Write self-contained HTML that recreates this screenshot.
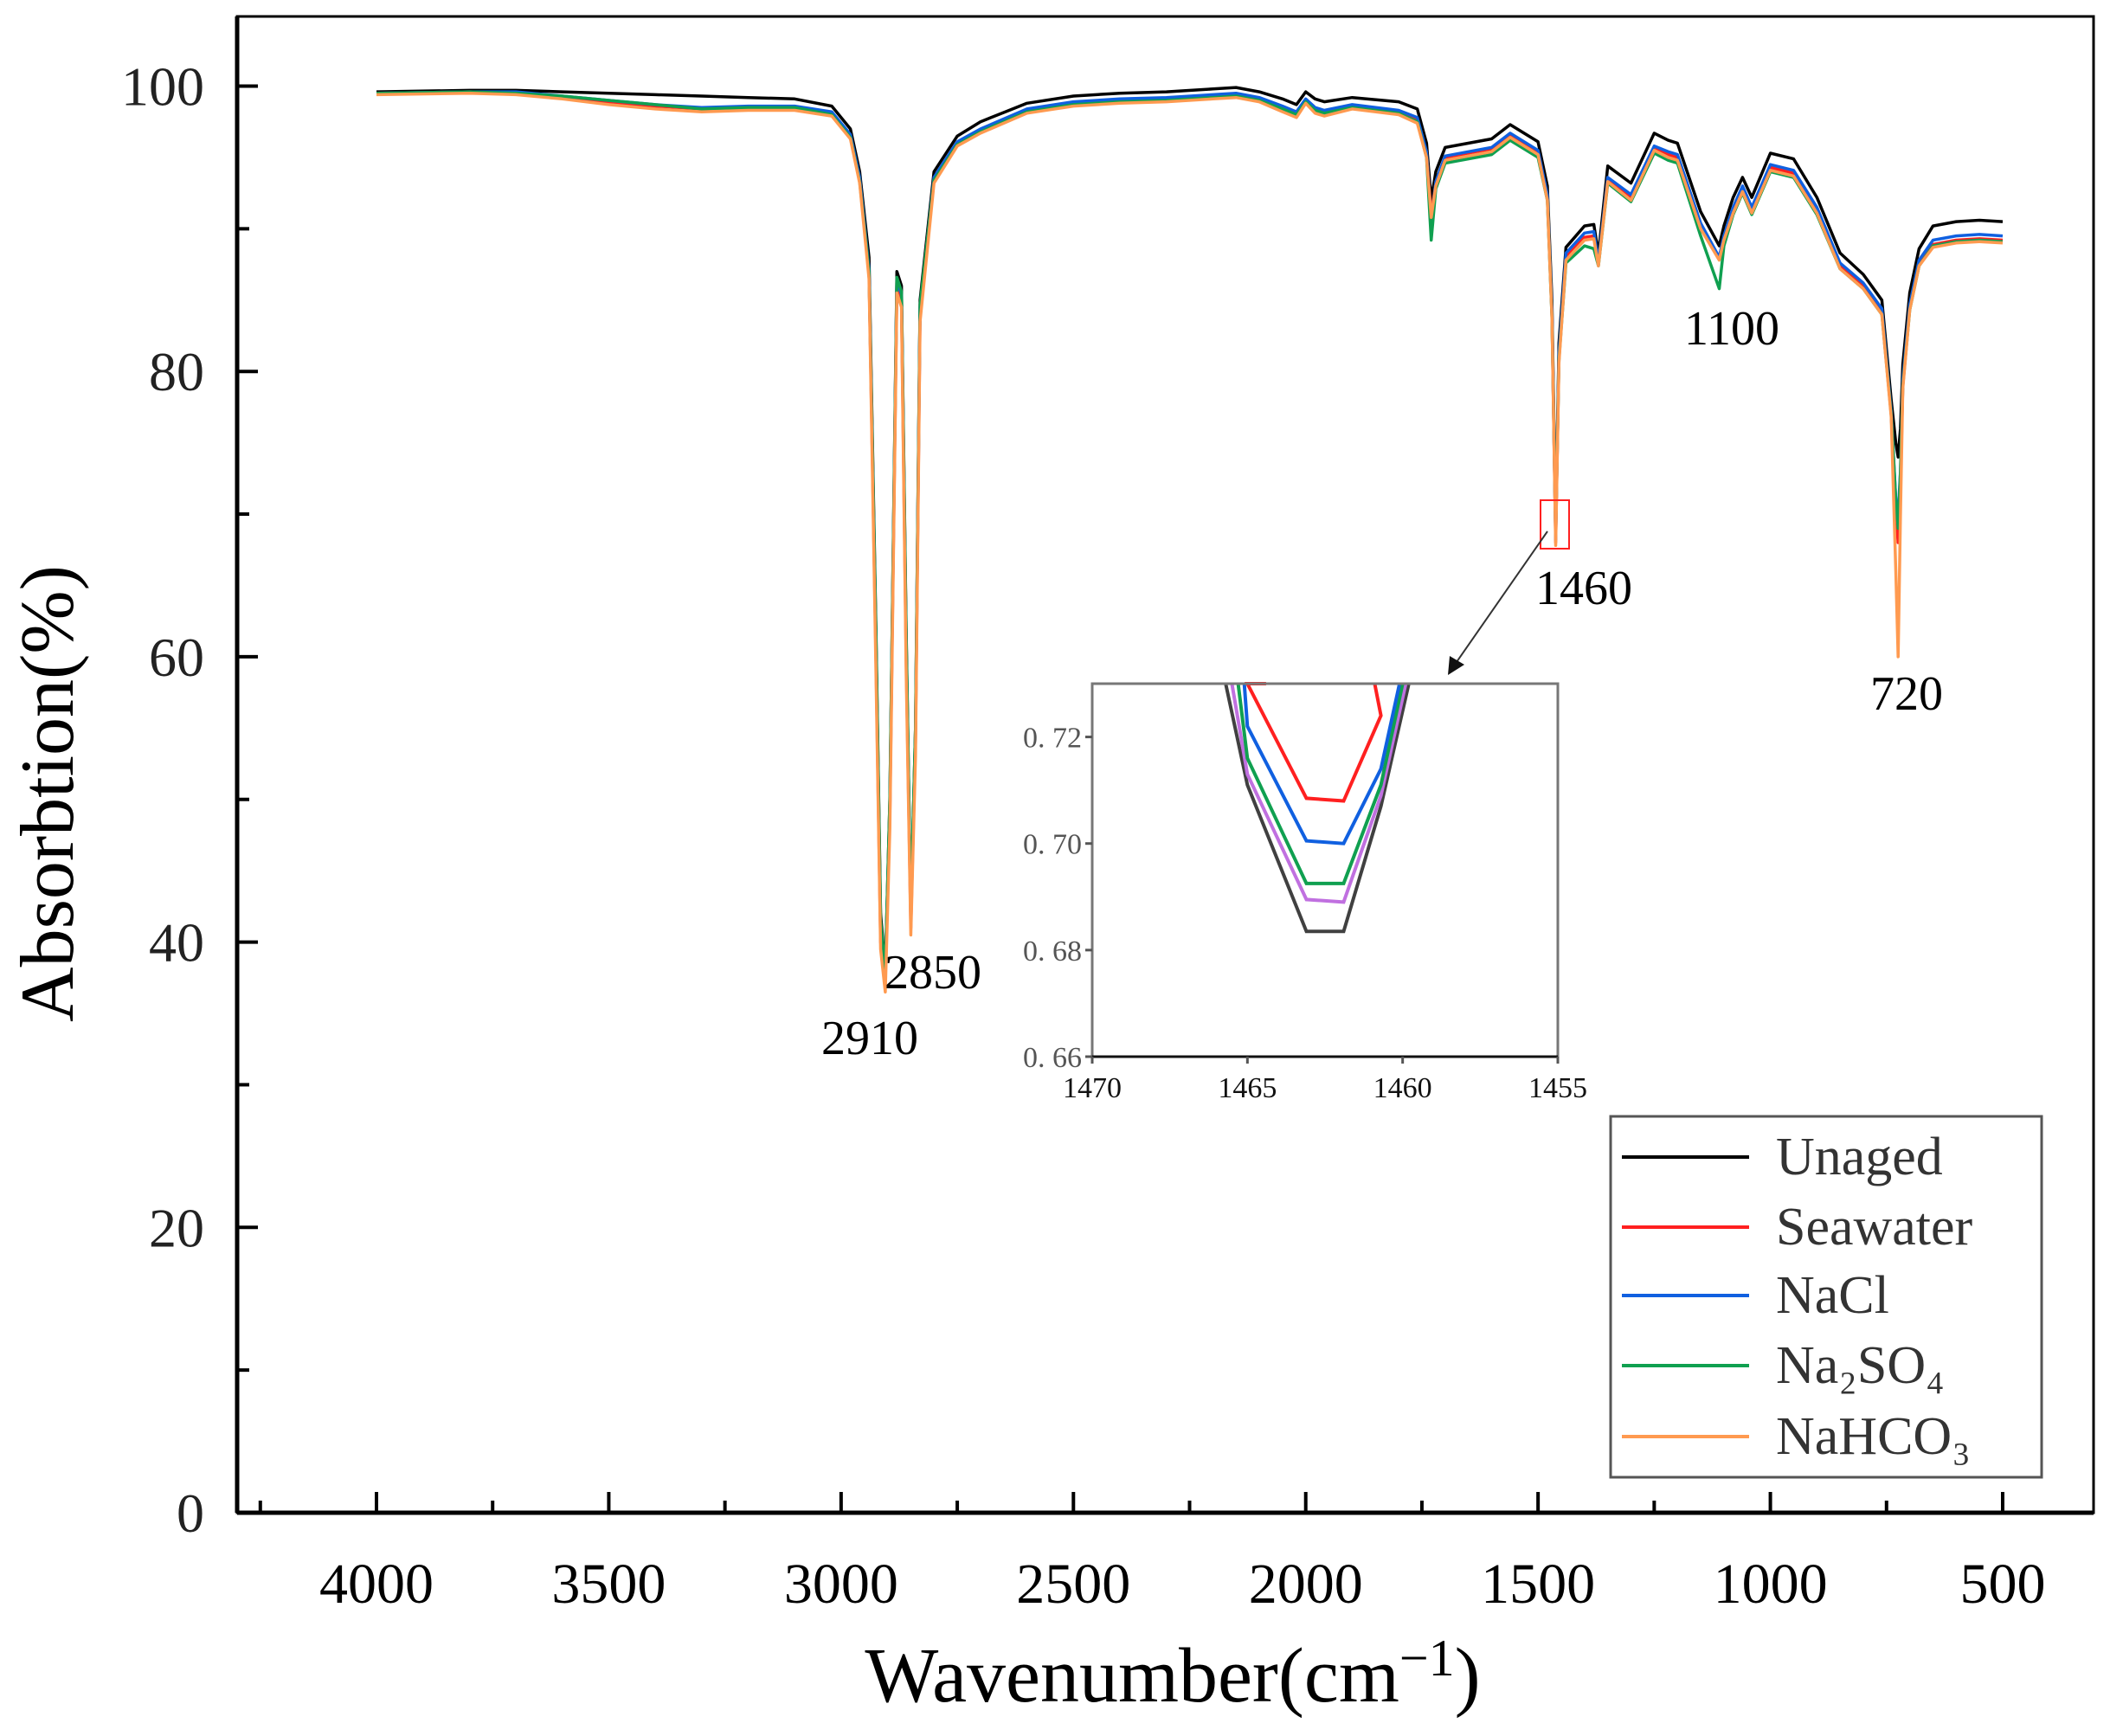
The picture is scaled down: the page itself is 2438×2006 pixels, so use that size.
<!DOCTYPE html>
<html><head><meta charset="utf-8">
<style>
html,body{margin:0;padding:0;background:#fff;}
svg{display:block;font-family:"Liberation Serif","Noto Serif CJK SC",serif;}
</style></head>
<body>
<svg id="chart" width="2438" height="2006" viewBox="0 0 2438 2006" xmlns="http://www.w3.org/2000/svg"></svg>
<script>
const seriesNames = ["Unaged","Seawater","NaCl","Na2SO4","NaHCO3"];
const seriesColors = ["#000000","#ff2020","#1060e0","#10a050","#ff9a50"];
const xTicks = [4000,3500,3000,2500,2000,1500,1000,500];
const yTicks = [0,20,40,60,80,100];
const wn = [4000,3800,3700,3600,3500,3400,3300,3200,3100,3020,2980,2960,2940,2925,2915,2905,2895,2880,2870,2860,2850,2840,2830,2800,2750,2700,2600,2500,2400,2300,2200,2150,2100,2050,2020,2000,1980,1960,1900,1800,1760,1740,1730,1720,1700,1600,1560,1500,1480,1470,1462,1455,1440,1400,1380,1370,1350,1300,1250,1220,1200,1150,1110,1100,1080,1060,1040,1000,950,900,850,800,760,740,730,725,720,715,700,680,650,600,550,500];
const unaged   = [99.6,99.7,99.7,99.6,99.5,99.4,99.3,99.2,99.1,98.6,97,94,88,62,42,38,50,87,86,62,42,55,85,94,96.5,97.5,98.8,99.3,99.5,99.6,99.8,99.9,99.6,99.1,98.7,99.6,99.1,98.9,99.2,98.9,98.4,96,92,94,95.7,96.3,97.3,96.1,93,85,69,82,88.7,90.2,90.3,88.2,94.4,93.2,96.7,96.2,96,91.2,88.8,90.2,92.2,93.6,92.2,95.3,94.9,92.2,88.3,86.8,85,78,75,74,76,80.5,85.5,88.6,90.2,90.5,90.6,90.5];
const seawater = [99.5,99.6,99.5,99.2,98.9,98.6,98.4,98.5,98.5,98.1,96.5,93.5,87,60,40,37.5,49,86,85,60,41,54,84,93.5,96,96.9,98.3,98.8,99,99.1,99.3,99.4,99.1,98.5,98.1,99,98.4,98.2,98.6,98.2,97.7,95.3,91,93.2,95,95.6,96.6,95.4,92.2,84,68,81,88,89.4,89.5,87.6,93.5,92.2,95.7,95.2,95,90.2,88,89.4,91.3,92.8,91.3,94.3,93.9,91.3,87.4,86,84.2,77,70,68,72,79,84.5,87.6,88.9,89.2,89.3,89.2];
const nacl     = [99.5,99.6,99.6,99.3,99,98.7,98.5,98.6,98.6,98.2,96.6,93.6,87.2,61,41,37.8,49.5,86.4,85.4,61,41.5,54.5,84.5,93.6,96.1,97,98.4,98.9,99.1,99.2,99.4,99.5,99.2,98.6,98.2,99.1,98.5,98.3,98.7,98.3,97.8,95.4,90.5,93.3,95.1,95.7,96.7,95.5,92.4,84.3,68.2,81.3,88.3,89.7,89.8,87.7,93.6,92.4,95.8,95.4,95.2,90.4,88,89.5,91.5,93,91.5,94.5,94.1,91.5,87.6,86.2,84.4,77.2,71,70,73,79.4,84.7,87.8,89.2,89.5,89.6,89.5];
const na2so4   = [99.5,99.6,99.5,99.3,99,98.7,98.4,98.5,98.5,98,96.4,93.3,87,61.5,41.5,38,50,86.6,85.6,61.5,42,55,84.7,93.4,95.9,96.8,98.2,98.7,98.9,99,99.2,99.3,99,98.4,98,98.9,98.3,98.1,98.5,98.1,97.5,95,89.2,92.8,94.6,95.2,96.2,95,92,83.8,68.5,80.8,87.6,88.8,88.6,87.4,93.2,91.9,95.3,94.8,94.6,89.5,85.8,88.8,91,92.5,91,94,93.6,91,87.2,85.8,84,77,71,69,73,79,84.3,87.4,88.8,89.1,89.2,89.1];
const nahco3   = [99.4,99.5,99.4,99.1,98.7,98.4,98.2,98.3,98.3,97.9,96.3,93.2,86.5,59,39.5,36.5,48,85.5,84.5,59,40.5,53,83.5,93.2,95.8,96.7,98.1,98.6,98.8,98.9,99.1,99.2,98.9,98.2,97.8,98.8,98.1,97.9,98.4,98,97.4,95,90.8,93,94.8,95.4,96.4,95.2,92,83.8,67.8,80.6,87.8,89.2,89.3,87.4,93.3,92,95.5,95,94.8,90,87.8,89.2,91.1,92.6,91.1,94.1,93.7,91.1,87.2,85.8,84,76.8,66,60,70,78.8,84.3,87.4,88.7,89,89.1,89];
const seriesData = [unaged,seawater,nacl,na2so4,nahco3];
const insetX = [1465.7,1465,1463.1,1461.9,1460.7,1459.8];
const insetTicksX = [1470,1465,1460,1455];
const insetTicksY = [0.66,0.68,0.70,0.72];
const insetBlack  = [0.730,0.711,0.6835,0.6835,0.707,0.730];
const insetPurple = [0.730,0.713,0.6895,0.689,0.709,0.730];
const insetGreen  = [0.730,0.716,0.6925,0.6925,0.711,0.730];
const insetBlue   = [0.730,0.722,0.7005,0.700,0.714,0.730];
const insetRed    = [0.7300,0.7300,0.7085,0.708,0.7240,0.730];
const insetCurves = [insetBlack,insetPurple,insetGreen,insetBlue,insetRed];
const insetColors = ["#404040","#c070e0","#10a050","#1060e0","#ff2020"];
const insetXCut = [[1465.7,1459.8],[1465.5,1459.9],[1465.3,1460.0],[1465.1,1460.1],[1464.4,1460.9]];

const svg = document.getElementById('chart');
const NS = "http://www.w3.org/2000/svg";
function mk(tag, attrs, parent){const e=document.createElementNS(NS,tag);for(const k in attrs)e.setAttribute(k,attrs[k]);(parent||svg).appendChild(e);return e;}
const X = v => 435 + (4000 - v) * (2314 - 435) / 3500;
const Y = v => 1748 - v * (1748 - 99.5) / 100;

let fr = mk('rect',{x:274,y:19,width:2145,height:1729,fill:'none',stroke:'#000','stroke-width':3});


let xa = mk('line',{x1:274,y1:1748,x2:2419,y2:1748,stroke:'#000','stroke-width':5});


let ya = mk('line',{x1:274,y1:19,x2:274,y2:1748,stroke:'#000','stroke-width':5});



for (let v=4250; v>=250; v-=250){
  const major = v % 500 === 0;
  const t = mk('line',{x1:X(v),y1:1748,x2:X(v),y2:1748-(major?24:14),stroke:'#000','stroke-width':4});
  
  
}
xTicks.forEach(v=>{
  const t = mk('text',{x:X(v),y:1852,'font-size':66,'text-anchor':'middle',fill:'#000'});
  t.textContent = v;
  
  
});
for (let v=0; v<=100; v+=10){
  const major = v % 20 === 0;
  const t = mk('line',{x1:274,y1:Y(v),x2:274+(major?24:14),y2:Y(v),stroke:'#000','stroke-width':4});
  
  
}
yTicks.forEach(v=>{
  const t = mk('text',{x:236,y:Y(v)+22,'font-size':64,'text-anchor':'end',fill:'#222'});
  t.textContent = v;
  
  
});
let xt = mk('text',{x:1355,y:1966,'font-size':90,'text-anchor':'middle',fill:'#000'});
xt.innerHTML = 'Wavenumber(cm<tspan font-size="60" dy="-30">−1</tspan><tspan dy="30">)</tspan>';


let yt = mk('text',{x:0,y:0,'font-size':88,'text-anchor':'middle',fill:'#000',transform:'translate(84,917) rotate(-90)'});
yt.textContent = 'Absorbtion(%)';



seriesData.forEach((d,i)=>{
  const pts = wn.map((w,j)=>X(w).toFixed(1)+','+Y(d[j]).toFixed(1)).join(' ');
  const p = mk('polyline',{points:pts,fill:'none',stroke:seriesColors[i],'stroke-width':3.5,'stroke-linejoin':'round'});
  
  
});

const annText = ["2910","2850","1460","1100","720"];
const annPos = [[1005,1218],[1078,1142],[1830,698],[2001,398],[2203,820]];
annText.forEach((s,i)=>{
  const t = mk('text',{x:annPos[i][0],y:annPos[i][1],'font-size':56,'text-anchor':'middle',fill:'#000'});
  t.textContent = s;
  
  
});
let rb = mk('rect',{x:1780,y:578,width:33,height:56,fill:'none',stroke:'#ff2020','stroke-width':2});


let ar = mk('line',{x1:1788,y1:614,x2:1683,y2:765,stroke:'#333','stroke-width':2});


let ah = mk('polygon',{points:'1673,780 1675,758 1692,768',fill:'#111'});



const IX = v => 1262 + (1470 - v) * (1800 - 1262) / 15;
const IY = v => 1221 - (v - 0.66) * (1221 - 790) / 0.07;
let ig = mk('g',{});


mk('rect',{x:1262,y:790,width:538,height:431,fill:'#fff'},ig);
insetCurves.forEach((c,i)=>{
  const xs = insetX.slice(); xs[0]=insetXCut[i][0]; xs[5]=insetXCut[i][1];
  const pts = xs.map((x,j)=>IX(x).toFixed(1)+','+IY(c[j]).toFixed(1)).join(' ');
  const p = mk('polyline',{points:pts,fill:'none',stroke:insetColors[i],'stroke-width':4},ig);
  
  
});
let ifr = mk('rect',{x:1262,y:790,width:538,height:431,fill:'none',stroke:'#777','stroke-width':3},ig);


mk('line',{x1:1262,y1:1221,x2:1800,y2:1221,stroke:'#111','stroke-width':3},ig);
insetTicksX.forEach(v=>{
  mk('line',{x1:IX(v),y1:1221,x2:IX(v),y2:1229,stroke:'#555','stroke-width':3},ig);
  const t = mk('text',{x:IX(v),y:1268,'font-size':34,'text-anchor':'middle',fill:'#111'},ig);
  t.textContent = v;
  
  
});
insetTicksY.forEach(v=>{
  mk('line',{x1:1254,y1:IY(v),x2:1262,y2:IY(v),stroke:'#555','stroke-width':3},ig);
  const t = mk('text',{x:1250,y:IY(v)+12,'font-size':34,'text-anchor':'end',fill:'#555'},ig);
  t.textContent = v.toFixed(2).replace('.', '. ');
  
  
});

let lg = mk('g',{});


mk('rect',{x:1861,y:1290,width:498,height:417,fill:'#fff',stroke:'#555','stroke-width':3},lg);
const legendLabels = ["Unaged","Seawater","NaCl","Na₂SO₄","NaHCO₃"];
const legendY = [1337,1418,1497,1578,1660];
legendLabels.forEach((s,i)=>{
  const l = mk('line',{x1:1874,y1:legendY[i],x2:2021,y2:legendY[i],stroke:seriesColors[i],'stroke-width':4},lg);
  
  
  const t = mk('text',{x:2052,y:legendY[i]+20,'font-size':62,fill:'#333'},lg);
  t.textContent = s;
  
  
});
</script>
</body></html>
